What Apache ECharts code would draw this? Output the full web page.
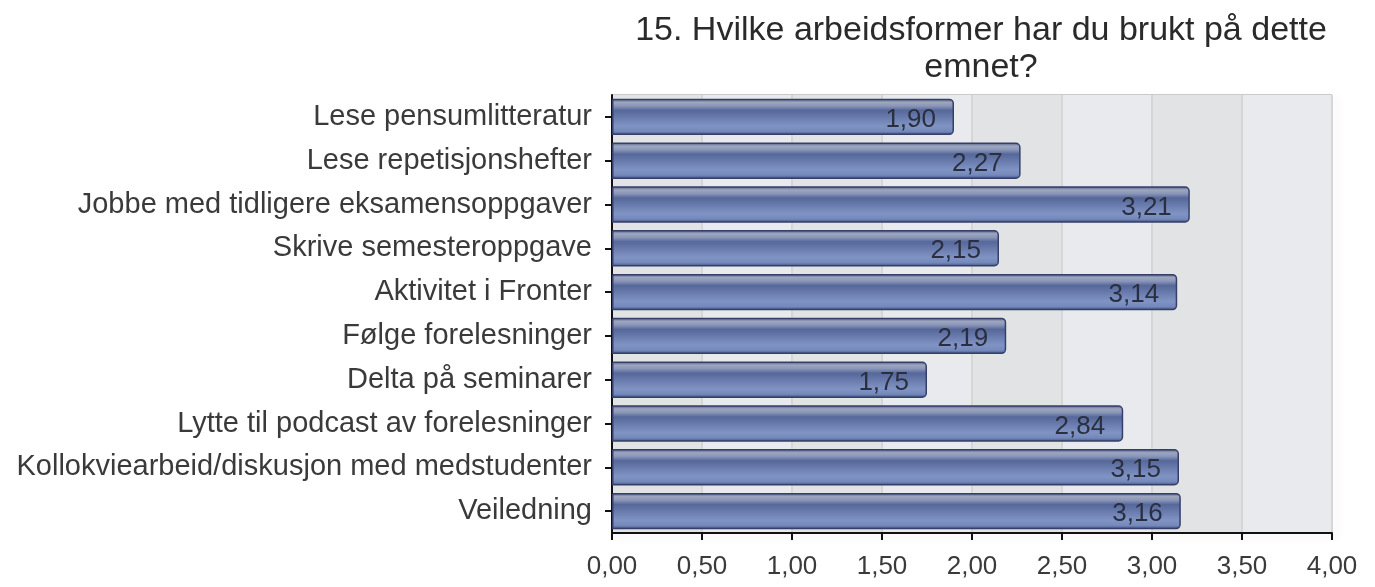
<!DOCTYPE html>
<html>
<head>
<meta charset="utf-8">
<script src="https://cdn.jsdelivr.net/npm/echarts@6/dist/echarts.min.js"></script>
<style>
  html, body { margin: 0; padding: 0; background: #fff; }
  #chart { width: 1375px; height: 587px; }
</style>
</head>
<body>
<div id="chart"></div>
<script>
const chartTitle = '15. Hvilke arbeidsformer har du brukt på dette\nemnet?'
const categories = [
  'Lese pensumlitteratur',
  'Lese repetisjonshefter',
  'Jobbe med tidligere eksamensoppgaver',
  'Skrive semesteroppgave',
  'Aktivitet i Fronter',
  'Følge forelesninger',
  'Delta på seminarer',
  'Lytte til podcast av forelesninger',
  'Kollokviearbeid/diskusjon med medstudenter',
  'Veiledning'
]
const values = [1.90, 2.27, 3.21, 2.15, 3.14, 2.19, 1.75, 2.84, 3.15, 3.16]
const xMin = 0
const xMax = 4
const xStep = 0.5

const fmt = v => v.toFixed(2).replace('.', ',')

const chart = echarts.init(document.getElementById('chart'))

// glossy bar look
const barFill = new echarts.graphic.LinearGradient(0, 0, 0, 1, [
  { offset: 0, color: '#4a5a86' },
  { offset: 0.1, color: '#9ea6bf' },
  { offset: 0.2, color: '#8a96b8' },
  { offset: 0.32, color: '#56679a' },
  { offset: 0.75, color: '#8094c4' },
  { offset: 0.9, color: '#7488bb' },
  { offset: 1, color: '#3e4c78' }
])

const option = {
  animation: false,
  textStyle: { fontFamily: 'Liberation Sans, Arial, sans-serif' },
  title: {
    text: chartTitle,
    left: 976,
    top: 7,
    textAlign: 'center',
    textStyle: {
      fontSize: 34,
      fontWeight: 'normal',
      color: '#2a2a2a',
      lineHeight: 37
    }
  },
  grid: {
    left: 612,
    right: 43,
    top: 95,
    bottom: 54,
    show: true,
    backgroundColor: 'transparent',
    borderColor: '#999',
    borderWidth: 1,
    shadowColor: 'rgba(0,0,0,0.18)',
    shadowBlur: 8,
    shadowOffsetX: 4,
    shadowOffsetY: 4
  },
  xAxis: {
    type: 'value',
    min: xMin,
    max: xMax,
    interval: xStep,
    axisLine: { show: true, lineStyle: { color: '#111', width: 2 } },
    axisTick: { show: true, length: 7, lineStyle: { color: '#111', width: 2 } },
    axisLabel: {
      formatter: fmt,
      fontSize: 26,
      color: '#3a3a3a',
      margin: 21
    },
    splitLine: { show: true, lineStyle: { color: '#d6d6d6', width: 2 } },
    splitArea: { show: true, areaStyle: { color: ['#e2e3e5', '#e8eaed'] } }
  },
  yAxis: {
    type: 'category',
    inverse: true,
    data: categories,
    axisLine: { show: true, lineStyle: { color: '#111', width: 2 } },
    axisTick: { show: true, alignWithLabel: true, length: 7, lineStyle: { color: '#111', width: 2 } },
    axisLabel: {
      fontSize: 29,
      color: '#3a3a3a',
      margin: 20
    },
    splitLine: { show: true, alignWithLabel: true, lineStyle: { color: '#d6d6d6', width: 2 } }
  },
  series: [
    {
      type: 'bar',
      data: values,
      barCategoryGap: '17%',
      itemStyle: {
        color: barFill,
        borderColor: '#34406a',
        borderWidth: 1.5,
        borderRadius: [0, 4, 4, 0]
      },
      label: {
        show: true,
        position: 'insideRight',
        distance: 18,
        offset: [0, 3],
        formatter: p => fmt(p.value),
        fontSize: 26,
        color: '#2a2f40'
      }
    }
  ]
}

chart.setOption(option)
</script>
</body>
</html>
